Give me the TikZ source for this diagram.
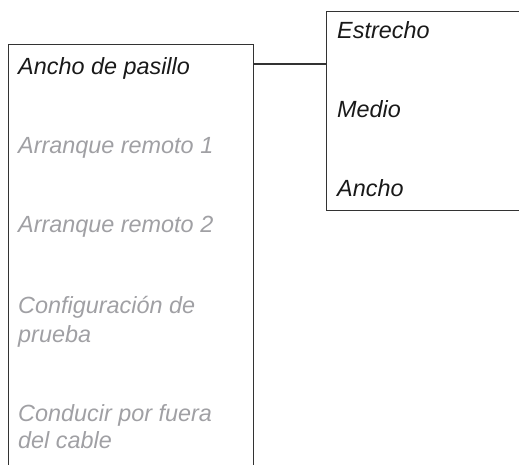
\documentclass[tikz,border=0pt]{standalone}
\usepackage{fontspec}
\setmainfont{Liberation Sans}
\begin{document}
\begin{tikzpicture}[x=1pt,y=-1pt,
  box/.style={draw=black!80, line width=1.2pt, anchor=north west, inner sep=0pt},
  on/.style={anchor=base west, inner sep=0pt, text=black!90, font=\fontsize{23.4}{28}\selectfont\itshape},
  off/.style={on, text={rgb,255:red,160;green,160;blue,164}},
  link/.style={draw=black!80, line width=1.2pt}]
\useasboundingbox (0,0) rectangle (519,464);
\clip (0,0) rectangle (519,464);
\node[box, minimum width=245pt, minimum height=460pt] (left) at (8,44) {};
\node[box, minimum width=230pt, minimum height=199pt] (right) at (326,11) {};
\coordinate (c) at (0,64);
\draw[link] (left.east |- c) -- (right.west |- c);
\node[on] (t1) at (18,74) {Ancho de pasillo};
\node[off] (t2) at (18,153) {Arranque remoto 1};
\node[off] (t3) at (18,232) {Arranque remoto 2};
\node[off] (t4) at (18,313) {Configuración de};
\node[off] (t4b) at (18,342) {prueba};
\node[off] (t5) at (18,421) {Conducir por fuera};
\node[off] (t5b) at (18,448) {del cable};
\node[on] (r1) at (337,38) {Estrecho};
\node[on] (r2) at (337,117) {Medio};
\node[on] (r3) at (337,196) {Ancho};
\end{tikzpicture}
\end{document}
